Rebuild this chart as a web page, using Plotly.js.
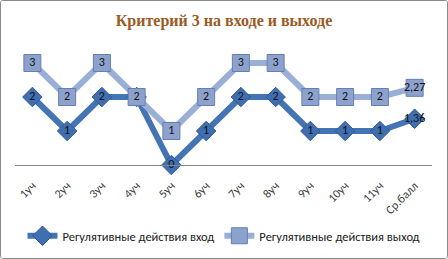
<!DOCTYPE html>
<html><head><meta charset="utf-8">
<script src="https://cdn.plot.ly/plotly-3.0.1.min.js"></script>
<style>
html,body{margin:0;padding:0;background:#fff;}
#wrap{position:absolute;left:0;top:0;width:446px;height:257px;border:1px solid #8a8a8a;border-radius:3px;overflow:hidden;}
#chart{width:446px;height:257px;}
</style></head>
<body><div id="wrap"><div id="chart"></div></div>
<script>
const categories = ["1уч","2уч","3уч","4уч","5уч","6уч","7уч","8уч","9уч","10уч","11уч","Ср.балл"];
const inputVals = [2,1,2,2,0,1,2,2,1,1,1,1.36];
const outputVals = [3,2,3,2,1,2,3,3,2,2,2,2.27];
const seriesNames = ["Регулятивные действия вход","Регулятивные действия выход"];
const fmt = v => String(v).replace('.', ',');
const FONT = 'Carlito, "Liberation Sans", Arial';

const traces = [
 {x: categories, y: inputVals, name: seriesNames[0], type:'scatter', mode:'lines+markers+text',
  text: inputVals.map(fmt), textposition:'middle center', textfont:{family:FONT, size:12, color:'#111'},
  line:{color:'#4474B4', width:6}, marker:{symbol:'diamond', size:15, color:'#3F6FB0', line:{color:'#2F5A96', width:1}},
  cliponaxis:false},
 {x: categories, y: outputVals, name: seriesNames[1], type:'scatter', mode:'lines+markers+text',
  text: outputVals.map(fmt), textposition:'middle center', textfont:{family:FONT, size:12, color:'#111'},
  line:{color:'#9AAFD6', width:6}, marker:{symbol:'square', size:17, color:'#8CA2CC', line:{color:'#6480B2', width:1}},
  cliponaxis:false}
];
const layout = {
 width:446, height:257,
 margin:{l:14, r:15, t:45, b:93},
 paper_bgcolor:'#fff', plot_bgcolor:'#fff',
 title:{text:'<b>Критерий 3 на входе и выходе</b>', font:{family:'"Liberation Serif", "Times New Roman", serif', size:16, color:'#9B5A23'}, x:0.5, xanchor:'center', y:0.925, yanchor:'middle'},
 xaxis:{type:'category', range:[-0.5, 11.5], tickangle:-45, tickfont:{family:FONT, size:12, color:'#404040'},
  ticks:'outside', ticklen:8, tickcolor:'rgba(0,0,0,0)',
  showgrid:false, showline:true, linecolor:'#888', linewidth:1, zeroline:false, fixedrange:true, automargin:false},
 yaxis:{range:[0,3.5], visible:false, showgrid:false, zeroline:false, fixedrange:true},
 showlegend:true,
 legend:{orientation:'h', x:0.5, xanchor:'center', xref:'container', y:0.085, yref:'container', yanchor:'middle', font:{family:FONT, size:12.5, color:'#222'}, tracegroupgap:0},
};
Plotly.newPlot('chart', traces, layout, {displayModeBar:false, staticPlot:true});
</script></body></html>
